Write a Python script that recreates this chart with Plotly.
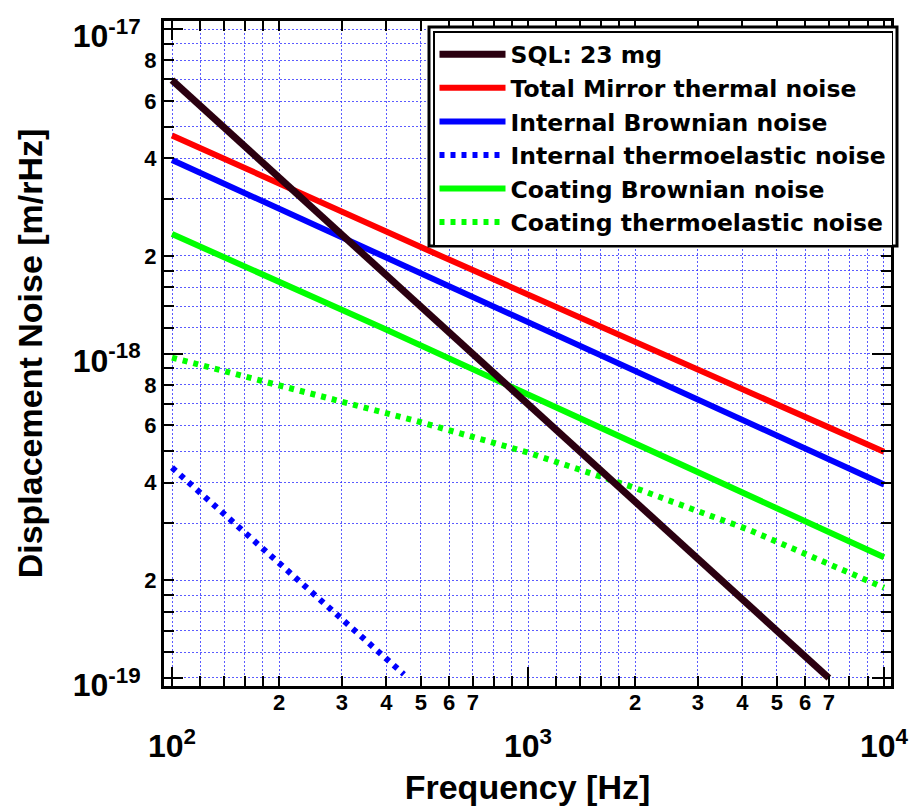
import plotly.graph_objects as go

# ---------------- data ----------------
freq_sql = [100, 7000]
sql_noise = [6.96e-18, 1.0e-19]

freq_total = [100, 604, 10000]
total_noise = [4.70e-18, 1.94e-18, 4.98e-19]

freq_int_br = [100, 604, 10000]
int_brownian = [3.95e-18, 1.607e-18, 3.95e-19]

freq_int_te = [100, 123, 153, 189, 235, 364, 448]
int_thermoelastic = [4.45e-19, 3.64e-19, 2.946e-19, 2.393e-19, 1.931e-19, 1.264e-19, 1.026e-19]

freq_coat_br = [100, 392, 10000]
coat_brownian = [2.335e-18, 1.196e-18, 2.355e-19]

freq_coat_te = [100, 142, 177, 234, 290, 360, 482, 1000, 2000, 3100, 4120, 5100, 6320, 7920, 10000]
coat_thermoelastic = [9.71e-19, 8.79e-19, 8.29e-19, 7.63e-19, 7.15e-19, 6.78e-19, 6.21e-19,
                      4.95e-19, 3.85e-19, 3.224e-19, 2.878e-19, 2.606e-19, 2.36e-19, 2.107e-19, 1.898e-19]

series_names = ["SQL: 23 mg", "Total Mirror thermal noise", "Internal Brownian noise",
                "Internal thermoelastic noise", "Coating Brownian noise",
                "Coating thermoelastic noise"]

# tick positions / labels
mantissas = [1, 1.2, 1.4, 1.6, 1.8, 2, 3, 4, 5, 6, 7, 8, 9]
x_decades = [100, 1000]
x_labeled = [2, 3, 4, 5, 6, 7]
y_decades = [1e-19, 1e-18]
y_labeled = [2, 4, 6, 8]
x_major_vals = [100, 1000, 10000]
x_major_text = ["10<sup>2</sup>", "10<sup>3</sup>", "10<sup>4</sup>"]
y_major_vals = [1e-19, 1e-18, 1e-17]
y_major_text = ["10<sup>-19</sup>", "10<sup>-18</sup>", "10<sup>-17</sup>"]

x_lab_vals, x_lab_text, x_plain_vals = [], [], []
for d in x_decades:
    for m in mantissas:
        if m in x_labeled:
            x_lab_vals.append(d * m)
            x_lab_text.append(str(m))
        else:
            x_plain_vals.append(d * m)
x_plain_vals.append(10000)

y_lab_vals, y_lab_text, y_plain_vals = [], [], []
for d in y_decades:
    for m in mantissas:
        if m in y_labeled:
            y_lab_vals.append(d * m)
            y_lab_text.append(str(m))
        else:
            y_plain_vals.append(d * m)
y_plain_vals.append(1e-17)

# ---------------- figure ----------------
FONT = "Liberation Sans, Arial, sans-serif"
C_SQL = "#2b0010"
C_RED = "#ff0000"
C_BLUE = "#0000ff"
C_GREEN = "#00ff00"
DOTS = "5px,6px"

fig = go.Figure()
fig.add_trace(go.Scatter(x=freq_total, y=total_noise, mode="lines", name=series_names[1],
                         line=dict(color=C_RED, width=6), legendrank=2))
fig.add_trace(go.Scatter(x=freq_int_br, y=int_brownian, mode="lines", name=series_names[2],
                         line=dict(color=C_BLUE, width=6), legendrank=3))
fig.add_trace(go.Scatter(x=freq_int_te, y=int_thermoelastic, mode="lines", name=series_names[3],
                         line=dict(color=C_BLUE, width=6, dash=DOTS), legendrank=4))
fig.add_trace(go.Scatter(x=freq_coat_br, y=coat_brownian, mode="lines", name=series_names[4],
                         line=dict(color=C_GREEN, width=6), legendrank=5))
fig.add_trace(go.Scatter(x=freq_coat_te, y=coat_thermoelastic, mode="lines", name=series_names[5],
                         line=dict(color=C_GREEN, width=6, dash=DOTS), legendrank=6))
fig.add_trace(go.Scatter(x=freq_sql, y=sql_noise, mode="lines", name=series_names[0],
                         line=dict(color=C_SQL, width=7), legendrank=1))
# invisible carriers so that the decade-label axes (x2 / y2) get drawn
fig.add_trace(go.Scatter(x=freq_sql, y=sql_noise, xaxis="x2", yaxis="y", mode="lines",
                         line=dict(width=0), opacity=0, showlegend=False, hoverinfo="skip"))
fig.add_trace(go.Scatter(x=freq_sql, y=sql_noise, xaxis="x", yaxis="y2", mode="lines",
                         line=dict(width=0), opacity=0, showlegend=False, hoverinfo="skip"))

L, R, T, B = 164, 891, 21, 686
xr = [1.9775, 4.0197]
yr = [-19.0247, -16.9753]
grid_col = "rgba(50,50,255,0.8)"
grid = dict(showgrid=True, gridcolor=grid_col, gridwidth=1, griddash="2px,2px")

common_axis = dict(type="log", ticks="inside", tickcolor="black", tickwidth=2,
                   showline=True, linecolor="black", linewidth=3, mirror="allticks",
                   zeroline=False)

fig.update_layout(
    width=920, height=806,
    margin=dict(l=L, r=920 - R, t=T, b=806 - B, autoexpand=False),
    paper_bgcolor="white", plot_bgcolor="white",
    font=dict(family=FONT, color="black"),
    showlegend=True,
    xaxis=dict(**common_axis, **grid, range=xr, tickmode="array", tickvals=x_lab_vals,
               ticktext=x_lab_text, ticklen=10,
               minor=dict(tickmode="array", tickvals=x_plain_vals, ticks="inside", ticklen=10,
                          tickwidth=2, tickcolor="black", **grid),
               tickfont=dict(size=22, family=FONT, weight="bold"), ticklabelstandoff=-5),
    xaxis2=dict(**common_axis, range=xr, overlaying="x", side="bottom", anchor="y",
                tickmode="array", tickvals=x_major_vals, ticktext=x_major_text, ticklen=19,
                showgrid=False, tickfont=dict(size=32, family=FONT, weight="bold"),
                ticklabelstandoff=30,
                title=dict(text="Frequency [Hz]", font=dict(size=34, family=FONT, weight="bold"),
                           standoff=14)),
    yaxis=dict(**common_axis, **grid, range=yr, tickmode="array", tickvals=y_lab_vals,
               ticktext=y_lab_text, ticklen=10,
               minor=dict(tickmode="array", tickvals=y_plain_vals, ticks="inside", ticklen=10,
                          tickwidth=2, tickcolor="black", **grid),
               tickfont=dict(size=22, family=FONT, weight="bold"), ticklabelstandoff=0),
    yaxis2=dict(**common_axis, range=yr, overlaying="y", side="left", anchor="x",
                tickmode="array", tickvals=y_major_vals, ticktext=y_major_text, ticklen=19,
                showgrid=False, tickfont=dict(size=32, family=FONT, weight="bold"),
                ticklabelstandoff=14, ticklabelshift=7,
                title=dict(text="Displacement Noise [m/rHz]",
                           font=dict(size=34, family=FONT, weight="bold"), standoff=20)),
    legend=dict(x=(893 - L) / (R - L), xanchor="right", y=(B - 31) / (B - T), yanchor="top",
                bgcolor="white", bordercolor="black", borderwidth=1.5,
                font=dict(size=23.5, family="DejaVu Sans", weight="bold", color="black"),
                itemwidth=66, tracegroupgap=0),
    shapes=[dict(type="rect", xref="paper", yref="paper", layer="above",
                 x0=(429 - L) / (R - L), x1=(897 - L) / (R - L),
                 y0=(B - 246) / (B - T), y1=(B - 27) / (B - T),
                 line=dict(color="black", width=3), fillcolor="white")],
)

fig.write_html("out.html")
